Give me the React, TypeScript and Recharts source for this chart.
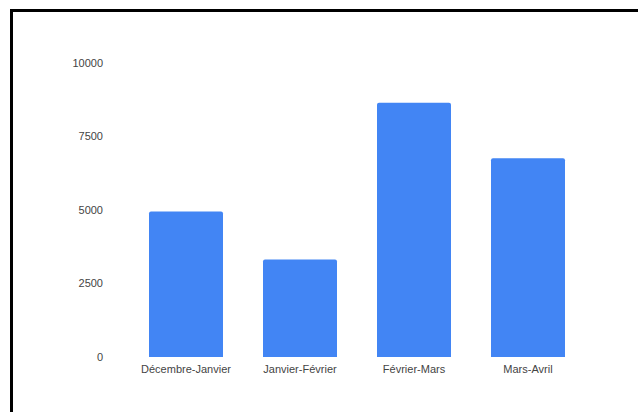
import { Bar, BarChart, XAxis, YAxis } from "recharts";

const periods = ["Décembre-Janvier", "Janvier-Février", "Février-Mars", "Mars-Avril"];
const values = [4950, 3320, 8650, 6760];
const yTicks = [0, 2500, 5000, 7500, 10000];

const data = periods.map((period, i) => ({ period, value: values[i] }));

const tickStyle = { fontSize: 11, fill: "#444", fontFamily: "'Liberation Sans', Arial, sans-serif" };

export default function App() {
  return (
    <div style={{ position: "absolute", left: 0, top: 0, width: 638, height: 412, background: "#fff", overflow: "hidden" }}>
      {/* frame around the sheet */}
      <div
        style={{
          position: "absolute",
          left: 10,
          top: 9,
          width: 660,
          height: 440,
          borderTop: "3px solid #000",
          borderLeft: "3px solid #000",
        }}
      />
      <div style={{ position: "absolute", left: 0, top: 0 }}>
        <BarChart width={638} height={412} data={data} margin={{ top: 63, right: 53, bottom: 25, left: 0 }}>
          <XAxis
            dataKey="period"
            axisLine={false}
            tickLine={false}
            tickSize={0}
            tickMargin={8}
            height={30}
            interval={0}
            tick={tickStyle}
          />
          <YAxis
            domain={[0, 10000]}
            ticks={yTicks}
            axisLine={false}
            tickLine={false}
            tickSize={0}
            tickMargin={26}
            width={129}
            tick={tickStyle}
          />
          <Bar dataKey="value" fill="#4285F4" barSize={74} radius={[2, 2, 0, 0]} isAnimationActive={false} />
        </BarChart>
      </div>
    </div>
  );
}
